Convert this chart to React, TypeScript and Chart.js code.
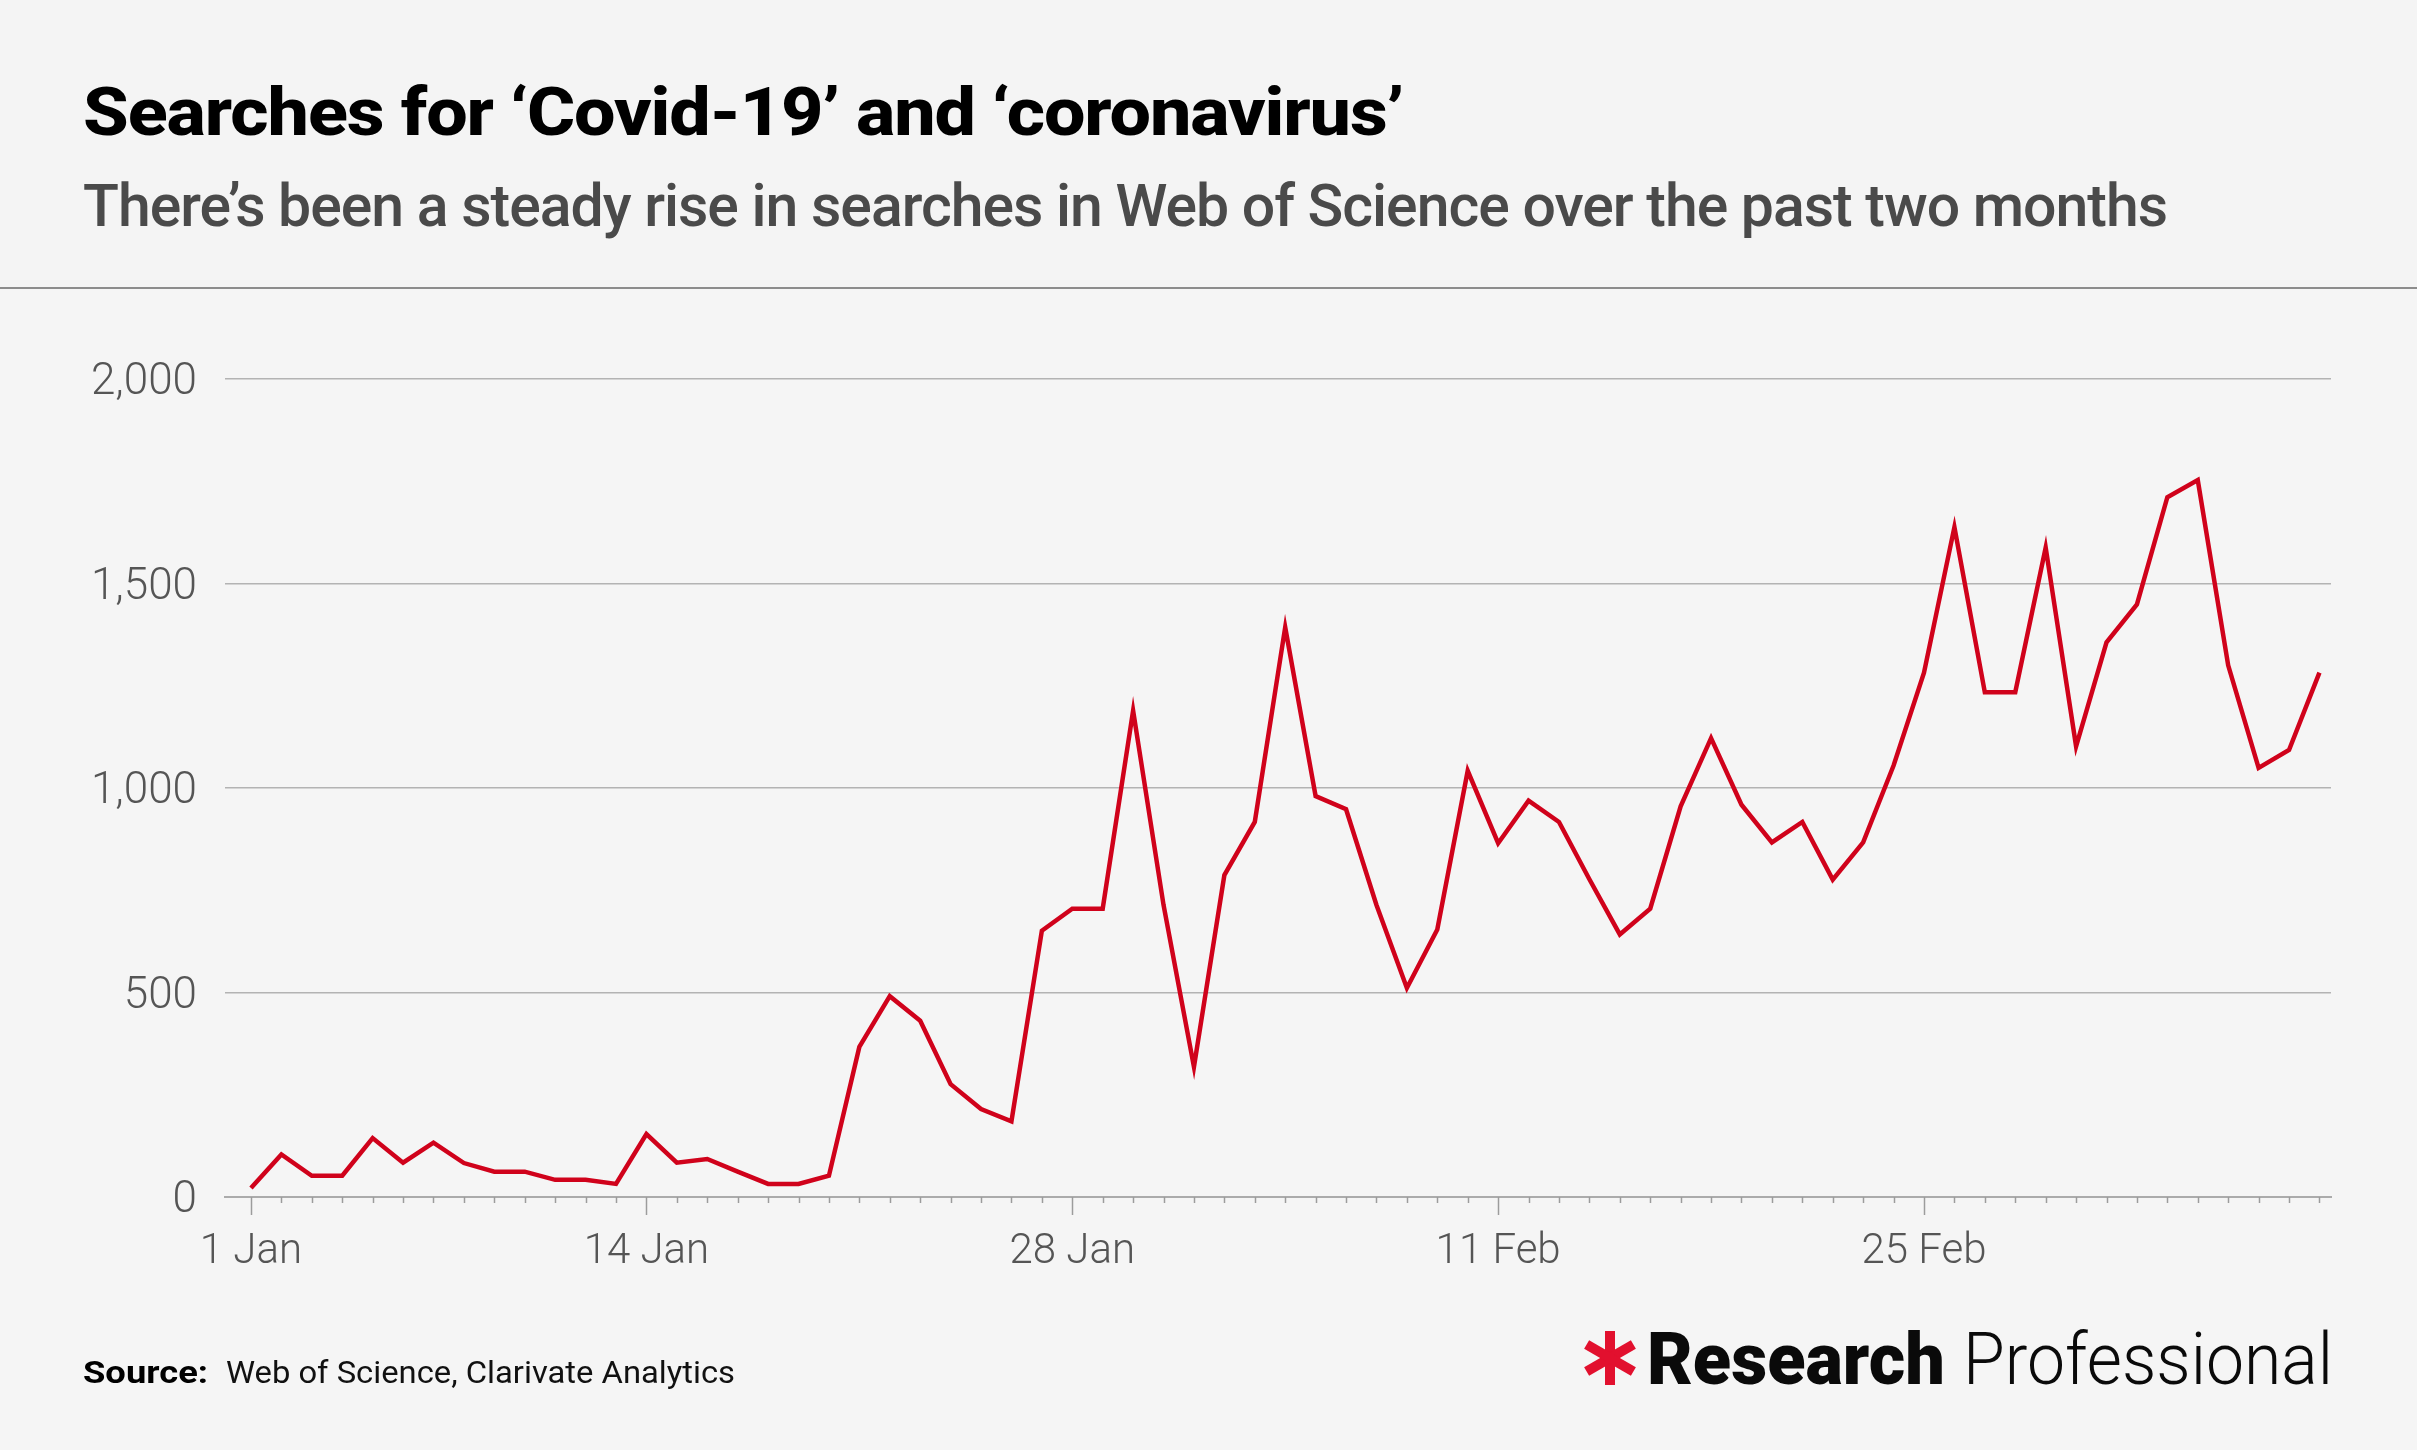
import React, { useEffect, useLayoutEffect, useRef } from "react";
import { Chart, registerables } from "chart.js";

Chart.register(...registerables);

// ---- Data (daily searches, 1 Jan – 9 Mar 2020) ----
const searches: number[] = [
  22, 104, 52, 52, 144, 84, 133, 83, 62, 62,
  42, 42, 32, 154, 84, 93, 62, 32, 32, 52,
  367, 491, 431, 276, 215, 185, 651, 705, 705, 1189,
  714, 318, 787, 917, 1393, 980, 948, 714, 511, 654,
  1042, 865, 969, 917, 777, 642, 705, 955, 1122, 959,
  867, 917, 776, 867, 1055, 1282, 1638, 1234, 1234, 1588,
  1102, 1356, 1449, 1711, 1753, 1300, 1049, 1093, 1282,
];
const tickDays: number[] = [0, 13, 27, 41, 55];
const tickLabels: string[] = ["1 Jan", "14 Jan", "28 Jan", "11 Feb", "25 Feb"];
const yTicks: number[] = [0, 500, 1000, 1500, 2000];

const TITLE = "Searches for \u2018Covid-19\u2019 and \u2018coronavirus\u2019";
const SUBTITLE =
  "There\u2019s been a steady rise in searches in Web of Science over the past two months";

const FONT = "Roboto, 'Liberation Sans', Arial, sans-serif";

function FitText({
  children,
  width,
  style,
}: {
  children: React.ReactNode;
  width: number;
  style?: React.CSSProperties;
}) {
  const ref = useRef<HTMLSpanElement>(null);
  useLayoutEffect(() => {
    const el = ref.current;
    if (!el) return;
    const fit = () => {
      el.style.transform = "none";
      const w = el.getBoundingClientRect().width;
      if (w > 0) el.style.transform = `scaleX(${width / w})`;
    };
    fit();
    const fonts: any = (document as any).fonts;
    if (fonts && fonts.ready) fonts.ready.then(fit);
  }, [width]);
  return (
    <span
      ref={ref}
      style={{
        display: "inline-block",
        whiteSpace: "nowrap",
        transformOrigin: "left top",
        lineHeight: 1,
        fontFamily: FONT,
        ...style,
      }}
    >
      {children}
    </span>
  );
}

const dayTicksPlugin = {
  id: "dayTicks",
  afterDraw(chart: any) {
    const xs = chart.scales.x;
    const ctx = chart.ctx;
    const y0 = chart.chartArea.bottom;
    ctx.save();
    ctx.strokeStyle = "#9c9c9c";
    ctx.lineWidth = 1.5;
    searches.forEach((_, i) => {
      const px = Math.round(xs.getPixelForValue(i)) + 0.5;
      const len = tickDays.includes(i) ? 18 : 6;
      ctx.beginPath();
      ctx.moveTo(px, y0);
      ctx.lineTo(px, y0 + len);
      ctx.stroke();
    });
    ctx.restore();
  },
};

function LineChart() {
  const canvasRef = useRef<HTMLCanvasElement>(null);
  useEffect(() => {
    const canvas = canvasRef.current;
    if (!canvas) return;
    const chart = new Chart(canvas, {
      type: "line",
      data: {
        datasets: [
          {
            data: searches.map((v, i) => ({ x: i, y: v })),
            borderColor: "#d0021b",
            borderWidth: 4.5,
            pointRadius: 0,
            tension: 0,
            fill: false,
            borderJoinStyle: "miter",
          },
        ],
      },
      options: {
        animation: false,
        responsive: false,
        devicePixelRatio: 1,
        layout: { padding: { left: 85, right: 86, top: 379, bottom: 173 } },
        plugins: { legend: { display: false }, tooltip: { enabled: false }, title: { display: false } },
        scales: {
          x: {
            type: "linear",
            min: -0.854,
            max: 68.38,
            afterBuildTicks: (scale: any) => {
              scale.ticks = searches.map((_, i) => ({ value: i }));
            },
            afterFit: (scale: any) => {
              scale.height = 80;
            },
            grid: { display: false, drawTicks: false },
            border: { display: true, color: "#ababab", width: 2 },
            ticks: {
              autoSkip: false,
              maxRotation: 0,
              minRotation: 0,
              padding: 30,
              color: "#555555",
              font: { family: FONT, size: 42, weight: "300" as any },
              callback: (v: any) => {
                const k = tickDays.indexOf(Number(v));
                return k >= 0 ? tickLabels[k] : "";
              },
            },
          },
          y: {
            min: 0,
            max: 2000,
            afterBuildTicks: (scale: any) => {
              scale.ticks = yTicks.map((v) => ({ value: v }));
            },
            afterFit: (scale: any) => {
              scale.width = 140;
            },
            grid: { color: "#b3b3b3", lineWidth: 1.5, drawTicks: false },
            border: { display: false },
            ticks: {
              padding: 28,
              labelOffset: 4,
              color: "#555555",
              font: { family: FONT, size: 44, weight: "300" as any },
              callback: (v: any) => Number(v).toLocaleString("en-US"),
            },
          },
        },
      },
      plugins: [dayTicksPlugin],
    } as any);
    return () => chart.destroy();
  }, []);
  return (
    <canvas
      ref={canvasRef}
      width={2417}
      height={1450}
      style={{ position: "absolute", left: 0, top: 0, width: 2417, height: 1450 }}
    />
  );
}

function Asterisk() {
  const bars = [0, 60, 120];
  return (
    <svg width={52} height={54} viewBox="0 0 52 54" style={{ position: "absolute", left: 1584, top: 1331 }}>
      {bars.map((a) => (
        <rect key={a} x={21} y={0} width={10} height={54} fill="#e2102e" transform={`rotate(${a} 26 27)`} />
      ))}
    </svg>
  );
}

export default function App() {
  useEffect(() => {
    document.body.style.margin = "0";
  }, []);
  const abs = (left: number, top: number): React.CSSProperties => ({ position: "absolute", left, top });
  return (
    <div
      style={{
        position: "fixed",
        left: 0,
        top: 0,
        width: 2417,
        height: 1450,
        background: "#f5f5f5",
        overflow: "hidden",
        fontFamily: FONT,
      }}
    >
      <div style={{ position: "absolute", left: 0, top: 0, width: 2417, height: 288, background: "#f4f4f4" }} />
      <div style={abs(83, 78.5)}>
        <FitText width={1320} style={{ fontSize: 67, fontWeight: 800, color: "#000", letterSpacing: -1 }}>
          {TITLE}
        </FitText>
      </div>
      <div style={abs(83, 176)}>
        <FitText width={2084} style={{ fontSize: 59, fontWeight: 500, color: "#4a4a4a", letterSpacing: -1 }}>
          {SUBTITLE}
        </FitText>
      </div>
      <div style={{ position: "absolute", left: 0, top: 287, width: 2417, height: 2, background: "#8c8c8c" }} />

      <LineChart />

      <div style={abs(83, 1357)}>
        <FitText width={125} style={{ fontSize: 31, fontWeight: 700, color: "#000" }}>
          Source:
        </FitText>
      </div>
      <div style={abs(226, 1357)}>
        <FitText width={509} style={{ fontSize: 31, fontWeight: 400, color: "#111" }}>
          Web of Science, Clarivate Analytics
        </FitText>
      </div>

      <Asterisk />
      <div style={abs(1647, 1322.5)}>
        <FitText width={298} style={{ fontSize: 73, fontWeight: 900, color: "#0a0a0a" }}>
          Research
        </FitText>
      </div>
      <div style={abs(1963, 1322.5)}>
        <FitText width={370} style={{ fontSize: 73, fontWeight: 300, color: "#0a0a0a" }}>
          Professional
        </FitText>
      </div>
    </div>
  );
}
